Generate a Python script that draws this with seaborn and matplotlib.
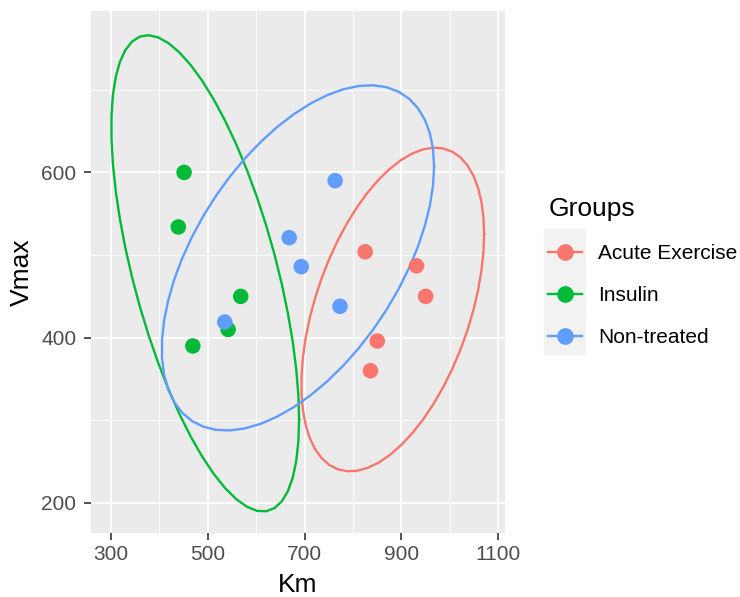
import numpy as np
import pandas as pd
import matplotlib
matplotlib.use("Agg")
import matplotlib.pyplot as plt
from matplotlib.lines import Line2D
from matplotlib.patches import Rectangle
import seaborn as sns

# data
groups = ["Acute Exercise", "Insulin", "Non-treated"]
km_acute = [825, 931, 950, 850, 836]
vmax_acute = [504, 487, 450, 396, 360]
km_insulin = [451, 439, 568, 542, 469]
vmax_insulin = [600, 534, 450, 410, 390]
km_nontreated = [763, 668, 693, 773, 535]
vmax_nontreated = [590, 521, 486, 438, 419]

colors = ["#F8766D", "#00BA38", "#619CFF"]
x_ticks = [300, 500, 700, 900, 1100]
y_ticks = [200, 400, 600]

df = pd.DataFrame({
    "Km": km_acute + km_insulin + km_nontreated,
    "Vmax": vmax_acute + vmax_insulin + vmax_nontreated,
    "Groups": [groups[0]] * 5 + [groups[1]] * 5 + [groups[2]] * 5,
})


# robust t covariance (like MASS::cov.trob), used by ggplot's stat_ellipse
def cov_trob(x, nu=5, maxit=25, tol=0.01):
    n, p = x.shape
    wt = np.ones(n)
    loc = x.mean(axis=0)
    w = np.sqrt(wt)
    for _ in range(maxit):
        w0 = w
        X = x - loc
        _, d, vt = np.linalg.svd(np.sqrt(w / w.sum())[:, None] * X, full_matrices=False)
        wX = X @ vt.T @ np.diag(1 / d)
        Q = (wX ** 2).sum(axis=1)
        w = (wt * (nu + p)) / (nu + Q)
        loc = (w[:, None] * x).sum(axis=0) / w.sum()
        if np.all(np.abs(w - w0) < tol):
            break
    X = x - loc
    cov = (np.sqrt(w)[:, None] * X).T @ (np.sqrt(w)[:, None] * X) / wt.sum()
    return loc, cov


def ellipse(x, level=0.95, segments=51):
    loc, cov = cov_trob(x)
    dfd = len(x) - 1
    # F(2, dfd) quantile in closed form
    fq = dfd / 2 * ((1 - level) ** (-2 / dfd) - 1)
    radius = np.sqrt(2 * fq)
    ch = np.linalg.cholesky(cov).T
    ang = np.arange(segments + 1) * 2 * np.pi / segments
    circ = np.column_stack([np.cos(ang), np.sin(ang)])
    return loc + radius * circ @ ch


plt.rcParams["font.family"] = ["Liberation Sans", "DejaVu Sans"]
fig = plt.figure(figsize=(7.4, 5.97), dpi=100)
ax = fig.add_axes([91 / 740, 1 - 533 / 597, 414 / 740, 522 / 597])
ax.set_facecolor("#EBEBEB")

for g, c in zip(groups, colors):
    sub = df[df["Groups"] == g]
    e = ellipse(sub[["Km", "Vmax"]].to_numpy(float))
    ax.plot(e[:, 0], e[:, 1], color=c, lw=1.7, zorder=3)

sns.scatterplot(data=df, x="Km", y="Vmax", hue="Groups", palette=colors,
                s=125, linewidth=0, ax=ax, legend=False, zorder=4)

ax.set_xlim(258.7, 1113.9)
ax.set_ylim(163.7, 795.3)
ax.set_xticks(x_ticks)
ax.set_yticks(y_ticks)
ax.set_xticks([400, 600, 800, 1000], minor=True)
ax.set_yticks([300, 500, 700], minor=True)
ax.grid(which="major", color="white", lw=1.3, zorder=0)
ax.grid(which="minor", color="white", lw=0.6, zorder=0)
ax.set_axisbelow(True)
for s in ax.spines.values():
    s.set_visible(False)
ax.tick_params(which="major", length=5, width=1.2, color="#333333",
               labelcolor="#4D4D4D", labelsize=15)
ax.tick_params(axis="y", which="major", pad=5.5)
ax.tick_params(axis="x", which="major", pad=4)
ax.tick_params(which="minor", length=0)
ax.set_xlabel("Km", fontsize=19, labelpad=6)
ax.set_ylabel("Vmax", fontsize=19, labelpad=5)

# legend
fig.patches.append(Rectangle((544 / 740, 1 - 354 / 597), 41 / 740, 125 / 597,
                             transform=fig.transFigure, color="#F2F2F2", zorder=0))
handles = [Line2D([], [], color=c, lw=1.7, marker="o", markersize=11) for c in colors]
leg = fig.legend(handles, groups, title="Groups", loc="upper left",
                 bbox_to_anchor=(538 / 740, 1 - 187 / 597), frameon=False,
                 fontsize=15, title_fontsize=19, handlelength=1.6,
                 handletextpad=0.8, labelspacing=1.1, borderpad=0)
leg._legend_box.align = "left"

fig.savefig("out.png", dpi=100)
